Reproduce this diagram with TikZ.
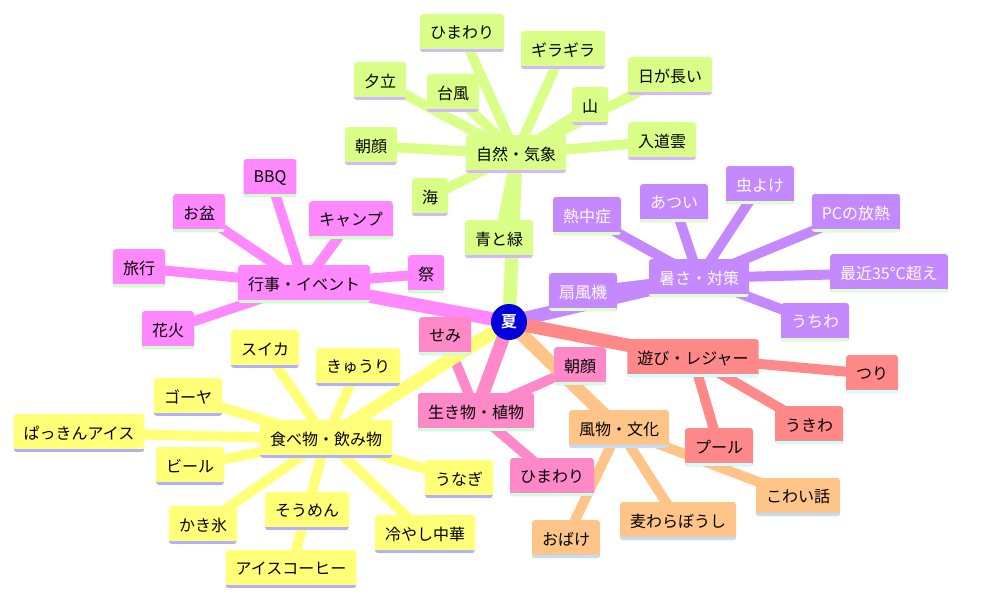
\documentclass[tikz,border=0pt]{standalone}
\usepackage{fontspec}
\setmainfont{Noto Sans CJK JP}
\newfontfamily\natsufont{Noto Sans CJK JP Bold}
\usetikzlibrary{backgrounds}
\definecolor{natsuBlue}{RGB}{0,0,221}
\definecolor{shizenFill}{RGB}{218,255,136}
\definecolor{shizenEdge}{RGB}{212,184,255}
\definecolor{atsusaFill}{RGB}{196,136,255}
\definecolor{atsusaEdge}{RGB}{221,255,204}
\definecolor{gyoujiFill}{RGB}{255,136,255}
\definecolor{gyoujiEdge}{RGB}{204,255,204}
\definecolor{tabemonoFill}{RGB}{255,255,120}
\definecolor{tabemonoEdge}{RGB}{176,176,255}
\definecolor{ikimonoFill}{RGB}{255,136,200}
\definecolor{ikimonoEdge}{RGB}{204,255,221}
\definecolor{fuubutsuFill}{RGB}{255,196,136}
\definecolor{fuubutsuEdge}{RGB}{187,221,255}
\definecolor{asobiFill}{RGB}{255,136,136}
\definecolor{asobiEdge}{RGB}{204,255,255}
\begin{document}
\begin{tikzpicture}[x=0.75pt,y=-0.75pt,
        box/.style 2 args={rounded corners=2.25pt,fill=#1,inner xsep=7.5pt,inner ysep=0pt,
            minimum height=28.5pt,text=black,font=\fontsize{12}{14}\selectfont,
            path picture={\fill[#2,sharp corners] (path picture bounding box.south west)
                rectangle ([yshift=2.25pt]path picture bounding box.south east);}},
        shizenbox/.style={box={shizenFill}{shizenEdge}},
        atsusabox/.style={box={atsusaFill}{atsusaEdge},text=white},
        gyoujibox/.style={box={gyoujiFill}{gyoujiEdge}},
        tabemonobox/.style={box={tabemonoFill}{tabemonoEdge}},
        ikimonobox/.style={box={ikimonoFill}{ikimonoEdge}},
        fuubutsubox/.style={box={fuubutsuFill}{fuubutsuEdge}},
        asobibox/.style={box={asobiFill}{asobiEdge}},
        natsunode/.style={circle,fill=natsuBlue,text=white,minimum size=27pt,inner sep=0pt,
            font=\natsufont\fontsize{12}{14}\selectfont},
        hub/.style={line width=10pt},
        twig/.style={line width=7.5pt}]
        \useasboundingbox (0,0) rectangle (985,610);
        \path (509,322) node[natsunode] (natsu) {夏};
        \path (516,154) node[shizenbox] (shizen) {自然・気象};
        \path (462,33) node[shizenbox] (himawariA) {ひまわり};
        \path (563,50) node[shizenbox] (giragira) {ギラギラ};
        \path (380,81) node[shizenbox] (yuudachi) {夕立};
        \path (453,93) node[shizenbox] (taifuu) {台風};
        \path (670,76) node[shizenbox] (higanagai) {日が長い};
        \path (590,106) node[shizenbox] (yama) {山};
        \path (662,141) node[shizenbox] (nyuudougumo) {入道雲};
        \path (371,146) node[shizenbox] (asagaoA) {朝顔};
        \path (430,197) node[shizenbox] (umi) {海};
        \path (499,239) node[shizenbox] (aotomidori) {青と緑};
        \path (699,278) node[atsusabox] (atsusa) {暑さ・対策};
        \path (587,216) node[atsusabox] (necchuushou) {熱中症};
        \path (674,203) node[atsusabox] (atsui) {あつい};
        \path (760,185) node[atsusabox] (mushiyoke) {虫よけ};
        \path (856,213) node[atsusabox] (pc) {PCの放熱};
        \path (889,273) node[atsusabox] (saikin) {最近35°C超え};
        \path (583,292) node[atsusabox] (senpuuki) {扇風機};
        \path (815,322) node[atsusabox] (uchiwa) {うちわ};
        \path (304,284) node[gyoujibox] (gyouji) {行事・イベント};
        \path (270,178) node[gyoujibox] (bbq) {BBQ};
        \path (199,213) node[gyoujibox] (obon) {お盆};
        \path (351,220) node[gyoujibox] (camp) {キャンプ};
        \path (139,268) node[gyoujibox] (ryokou) {旅行};
        \path (426,274) node[gyoujibox] (matsuri) {祭};
        \path (168,330) node[gyoujibox] (hanabi) {花火};
        \path (326,439) node[tabemonobox] (tabemono) {食べ物・飲み物};
        \path (265,349) node[tabemonobox] (suika) {スイカ};
        \path (358,367) node[tabemonobox] (kyuuri) {きゅうり};
        \path (188,397) node[tabemonobox] (goya) {ゴーヤ};
        \path (79,433) node[tabemonobox] (pakkin) {ぱっきんアイス};
        \path (190,466) node[tabemonobox] (biiru) {ビール};
        \path (459,479) node[tabemonobox] (unagi) {うなぎ};
        \path (203,525) node[tabemonobox] (kakigoori) {かき氷};
        \path (307,511) node[tabemonobox] (soumen) {そうめん};
        \path (425,534) node[tabemonobox] (hiyashi) {冷やし中華};
        \path (291,569) node[tabemonobox] (koohii) {アイスコーヒー};
        \path (476,412) node[ikimonobox] (ikimono) {生き物・植物};
        \path (445,336) node[ikimonobox] (semi) {せみ};
        \path (580,366) node[ikimonobox] (asagaoB) {朝顔};
        \path (552,477) node[ikimonobox] (himawariB) {ひまわり};
        \path (619,429) node[fuubutsubox] (fuubutsu) {風物・文化};
        \path (566,539) node[fuubutsubox] (obake) {おばけ};
        \path (678,521) node[fuubutsubox] (mugiwara) {麦わらぼうし};
        \path (798,497) node[fuubutsubox] (kowai) {こわい話};
        \path (693,358) node[asobibox] (asobi) {遊び・レジャー};
        \path (872,374) node[asobibox] (tsuri) {つり};
        \path (809,425) node[asobibox] (ukiwa) {うきわ};
        \path (719,447) node[asobibox] (pool) {プール};
        \begin{scope}[on background layer]
        \foreach \leaf in {himawariA,giragira,yuudachi,taifuu,higanagai,yama,nyuudougumo,asagaoA,umi,aotomidori}
            \draw[twig,shizenFill] (shizen.center) -- (\leaf.center);
        \foreach \leaf in {necchuushou,atsui,mushiyoke,pc,saikin,senpuuki,uchiwa}
            \draw[twig,atsusaFill] (atsusa.center) -- (\leaf.center);
        \foreach \leaf in {bbq,obon,camp,ryokou,matsuri,hanabi}
            \draw[twig,gyoujiFill] (gyouji.center) -- (\leaf.center);
        \foreach \leaf in {suika,kyuuri,goya,pakkin,biiru,unagi,kakigoori,soumen,hiyashi,koohii}
            \draw[twig,tabemonoFill] (tabemono.center) -- (\leaf.center);
        \foreach \leaf in {semi,asagaoB,himawariB}
            \draw[twig,ikimonoFill] (ikimono.center) -- (\leaf.center);
        \foreach \leaf in {obake,mugiwara,kowai}
            \draw[twig,fuubutsuFill] (fuubutsu.center) -- (\leaf.center);
        \foreach \leaf in {tsuri,ukiwa,pool}
            \draw[twig,asobiFill] (asobi.center) -- (\leaf.center);
        \draw[hub,shizenFill] (natsu.center) -- (shizen.center);
        \draw[hub,atsusaFill] (natsu.center) -- (atsusa.center);
        \draw[hub,gyoujiFill] (natsu.center) -- (gyouji.center);
        \draw[hub,tabemonoFill] (natsu.center) -- (tabemono.center);
        \draw[hub,ikimonoFill] (natsu.center) -- (ikimono.center);
        \draw[hub,fuubutsuFill] (natsu.center) -- (fuubutsu.center);
        \draw[hub,asobiFill] (natsu.center) -- (asobi.center);
        \end{scope}
    \end{tikzpicture}
\end{document}
